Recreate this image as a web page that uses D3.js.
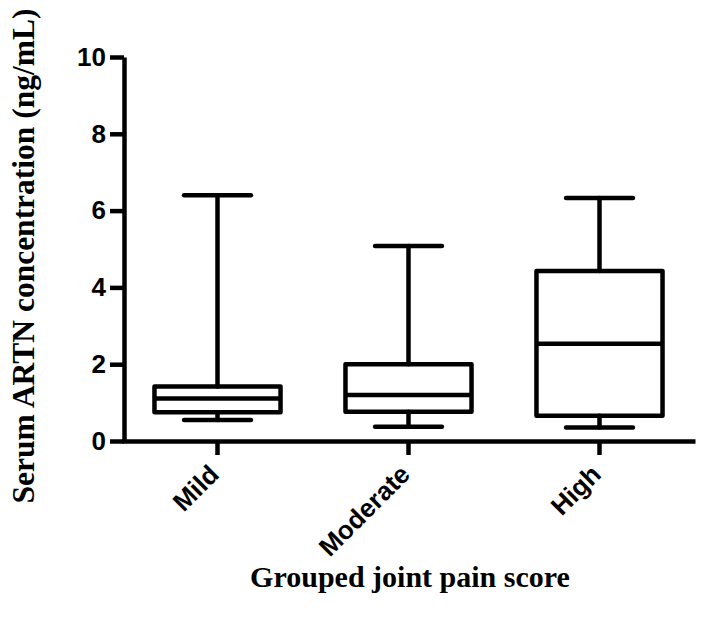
<!DOCTYPE html>
<html>
<head>
<meta charset="utf-8">
<script src="https://cdn.jsdelivr.net/npm/d3@7"></script>
<style>
  body { margin: 0; background: #fff; }
  .axis path, .axis line { stroke: #000; stroke-width: 4.5px; }
  .axis text { font-family: "Liberation Sans", Arial, sans-serif; font-weight: bold; font-size: 26px; fill: #000; }
  .title { font-family: "Liberation Serif", "Times New Roman", serif; font-weight: bold; font-size: 30px; fill: #000; }
</style>
</head>
<body>
<div id="chart"></div>
<script>
// box plot values (ng/mL)
var categories = ["Mild", "Moderate", "High"];
var mins    = [0.55, 0.37, 0.35];
var q1s     = [0.75, 0.76, 0.66];
var medians = [1.11, 1.20, 2.53];
var q3s     = [1.42, 2.00, 4.43];
var maxs    = [6.40, 5.08, 6.33];
var yTicks  = [0, 2, 4, 6, 8, 10];

var svgWidth = 702;
var svgHeight = 626;

var margin = {
  top: 57,
  right: 5,
  bottom: 185,
  left: 124
};

var width = svgWidth - margin.left - margin.right;
var height = svgHeight - margin.top - margin.bottom;

var svg = d3.select("#chart")
  .append("svg")
  .attr("width", svgWidth)
  .attr("height", svgHeight);

var chart = svg.append("g")
  .attr("transform", `translate(${margin.left}, ${margin.top})`);

var boxes = categories.map(function(c, i) {
  return { cat: c, min: mins[i], q1: q1s[i], med: medians[i], q3: q3s[i], max: maxs[i] };
});

var x = d3.scaleBand()
  .domain(categories)
  .range([-2, width - 2])
  .padding(0);

var y = d3.scaleLinear()
  .domain([0, 10])
  .range([height, 0]);

var boxW = x.bandwidth() * 0.66;
var capW = x.bandwidth() * 0.35;

// axes
var xAxis = chart.append("g")
  .attr("class", "axis")
  .attr("transform", `translate(0, ${height})`)
  .call(d3.axisBottom(x).tickSizeOuter(0).tickSizeInner(14));

xAxis.selectAll("text")
  .style("text-anchor", "end")
  .attr("x", 0)
  .attr("y", 0)
  .attr("dy", 0)
  .attr("transform", "translate(3, 35) rotate(-45)");

chart.append("g")
  .attr("class", "axis")
  .call(d3.axisLeft(y).tickValues(yTicks).tickSizeOuter(0).tickSizeInner(14).tickPadding(4));

// boxes
var g = chart.selectAll(".box")
  .data(boxes)
  .enter()
  .append("g")
  .attr("class", "box")
  .attr("transform", d => `translate(${x(d.cat) + x.bandwidth() / 2}, 0)`)
  .attr("stroke", "#000")
  .attr("stroke-width", 4.5)
  .attr("stroke-linecap", "round")
  .attr("stroke-linejoin", "round")
  .attr("fill", "none");

// whiskers
g.append("line")
  .attr("x1", 0).attr("x2", 0)
  .attr("y1", d => y(d.max)).attr("y2", d => y(d.q3));
g.append("line")
  .attr("x1", 0).attr("x2", 0)
  .attr("y1", d => y(d.q1)).attr("y2", d => y(d.min));

// caps
g.append("line")
  .attr("x1", -capW / 2).attr("x2", capW / 2)
  .attr("y1", d => y(d.max)).attr("y2", d => y(d.max));
g.append("line")
  .attr("x1", -capW / 2).attr("x2", capW / 2)
  .attr("y1", d => y(d.min)).attr("y2", d => y(d.min));

g.append("rect")
  .attr("x", -boxW / 2)
  .attr("width", boxW)
  .attr("y", d => y(d.q3))
  .attr("height", d => y(d.q1) - y(d.q3));

g.append("line")
  .attr("stroke-linecap", "butt")
  .attr("x1", -boxW / 2).attr("x2", boxW / 2)
  .attr("y1", d => y(d.med)).attr("y2", d => y(d.med));

// axis titles
chart.append("text")
  .attr("class", "title")
  .attr("text-anchor", "middle")
  .style("font-size", "31.5px")
  .attr("transform", `translate(${34 - margin.left}, ${256 - margin.top}) rotate(-90)`)
  .text("Serum ARTN concentration (ng/mL)");

chart.append("text")
  .attr("class", "title")
  .attr("text-anchor", "middle")
  .attr("x", 410 - margin.left)
  .attr("y", 587 - margin.top)
  .text("Grouped joint pain score");
</script>
</body>
</html>
